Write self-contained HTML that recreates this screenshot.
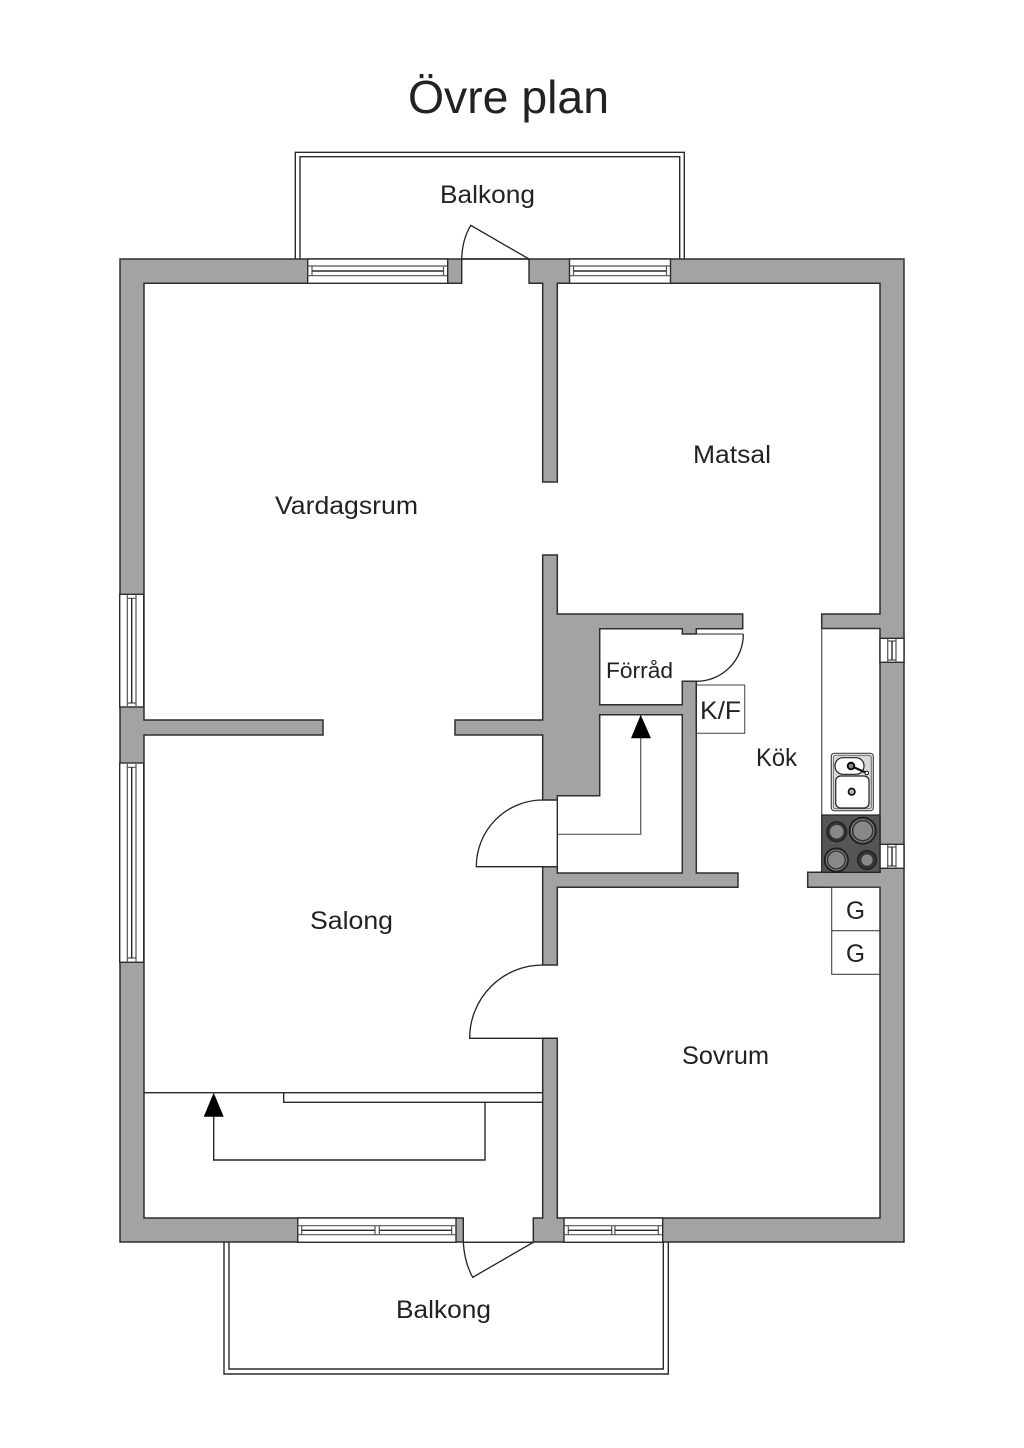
<!DOCTYPE html>
<html><head><meta charset="utf-8"><title>Övre plan</title>
<style>
html,body{margin:0;padding:0;background:#fff}
svg{display:block}
text{font-family:"Liberation Sans",sans-serif;fill:#222}
.w{fill:#a3a3a3;stroke:#2e2e2e;stroke-width:1.5;fill-rule:evenodd}
.o{fill:#fff;stroke:#2e2e2e;stroke-width:1.4}
.l{fill:none;stroke:#2a2a2a;stroke-width:1.4}
.t{fill:none;stroke:#555;stroke-width:1.2}
.d{fill:none;stroke:#222;stroke-width:1.3}
.h{fill:#333;stroke:#1a1a1a;stroke-width:1}
</style></head><body>
<svg width="1024" height="1448" viewBox="0 0 1024 1448" xmlns="http://www.w3.org/2000/svg">
<rect width="1024" height="1448" fill="#fff"/>

<!-- balconies -->
<path class="l" d="M295.3 259V152.3H684.3V259M300 259V156.7H679.7V259"/>
<path class="l" d="M224 1242V1374H668.3V1242M229 1242V1369H663.3V1242"/>

<!-- walls -->
<path class="w" d="M120 259H904V1242H120Z M144 283.3H542.7V482H557.3V283.3H880V614H821.7V628.5H880V872.3H807.7V887.3H880V1218H557.3V1038.3H542.7V1218H144V735H323V720H144Z"/>
<path class="w" d="M542.7 555H557.3V614H742.7V628.7H696.3V634H682.3V628.7H599.7V704.7H682.3V681.3H696.3V873H738V887.3H557.3V965H542.7V866.7H557.3V873H682.3V714.7H599.7V795.7H557.3V800H542.7V735H455V720H542.7Z"/>

<!-- top door -->
<rect x="462.3" y="259.8" width="66.2" height="25" fill="#fff"/>
<path class="l" d="M461.7 259V283.3M529 259V283.3M461.7 259H529"/>
<path class="d" d="M461.7 259C462 246 465 235 470.7 225.3L529 259"/>
<!-- bottom door -->
<rect x="463.9" y="1216.5" width="68.8" height="25.2" fill="#fff"/>
<path class="l" d="M463.3 1218V1242.3M533.3 1218V1242.3M463.3 1242.3H533.3"/>
<path class="d" d="M463.3 1242.3C464 1255 467 1267 472.7 1277.3L533.3 1242.3"/>

<!-- top windows -->
<rect class="o" x="307.7" y="259" width="140" height="24.3"/>
<path class="t" d="M308 266H447M308 275.7H447M312 266V275.7M443.5 266V275.7"/>
<path class="l" d="M312 271H443.5"/>
<rect class="o" x="569.5" y="259" width="101" height="24.3"/>
<path class="t" d="M570 266H670M570 275.7H670M573.5 266V275.7M666.5 266V275.7"/>
<path class="l" d="M573.5 271H666.5"/>

<!-- bottom windows -->
<rect class="o" x="297.7" y="1218" width="158.3" height="24.3"/>
<path class="t" d="M298 1225.7H456M298 1234.7H456M301.7 1225.7V1234.7M451.7 1225.7V1234.7M375 1225.7V1234.7M379.3 1225.7V1234.7"/>
<path class="l" d="M301.7 1230.3H375M379.3 1230.3H451.7"/>
<rect class="o" x="564" y="1218" width="98.7" height="24.3"/>
<path class="t" d="M564 1225.7H662M564 1234.7H662M568.3 1225.7V1234.7M658.3 1225.7V1234.7M611.7 1225.7V1234.7M615 1225.7V1234.7"/>
<path class="l" d="M568.3 1230.3H611.7M615 1230.3H658.3"/>

<!-- left windows -->
<rect class="o" x="119.7" y="594.3" width="24" height="112.7"/>
<path class="t" d="M127.3 595V706M136 595V706M127.3 598.3H136M127.3 703H136"/>
<path class="l" d="M131.7 598.3V703"/>
<rect class="o" x="119.7" y="763" width="24" height="199.3"/>
<path class="t" d="M127.3 764V962M136 764V962M127.3 767.3H136M127.3 958H136"/>
<path class="l" d="M131.7 767.3V958"/>

<!-- right windows -->
<rect class="o" x="880" y="638.3" width="24" height="24"/>
<path class="t" d="M887.7 639V662M896 639V662M887.7 641H896M887.7 660H896"/>
<path class="l" d="M892 641V660"/>
<rect class="o" x="880" y="844.3" width="24" height="24"/>
<path class="t" d="M887.7 845V868M896 845V868M887.7 847H896M887.7 866H896"/>
<path class="l" d="M892 847V866"/>

<!-- interior doors -->
<path class="d" d="M542.7 800A66.5 66.5 0 0 0 476.3 866.7H542.7"/>
<path class="l" d="M557.3 800V866.7"/>
<path class="d" d="M542.7 965A73 73 0 0 0 469.7 1038.3H557.3"/>
<path class="d" d="M743.3 634A47 47 0 0 1 696.3 681.3"/>
<path class="t" d="M696.3 634H743.3"/>

<!-- stair Förråd -->
<path class="t" d="M557.3 834.3H640.7V730"/>
<path d="M640.7 714.7L651 738.3H631Z" fill="#000"/>

<!-- closet / lower stair -->
<path class="l" d="M144 1092.7H542.7M283.7 1092.7V1102.3H542.7M485 1102.3V1160H213.7V1110"/>
<path d="M213.7 1092.7L223.7 1116.7H203.7Z" fill="#000"/>

<!-- K/F box -->
<rect x="696.3" y="685" width="48.4" height="48.3" fill="#fff" stroke="#555" stroke-width="1.1"/>
<path class="l" d="M696.3 681.3V733.3"/>

<!-- counter -->
<path class="t" d="M821.7 628.5V815"/>

<!-- sink -->
<rect x="831.3" y="753.3" width="42" height="57.4" rx="3" fill="#fff" stroke="#444" stroke-width="1.2"/>
<rect x="833.3" y="755.3" width="38" height="53.4" rx="2" fill="#d8d8d8" stroke="#666" stroke-width="1"/>
<rect x="835" y="757.7" width="29" height="16.6" rx="8" fill="#fff" stroke="#222" stroke-width="1.2"/>
<rect x="835.7" y="776" width="33.3" height="32" rx="5" fill="#fff" stroke="#222" stroke-width="1.2"/>
<path d="M851 766L866.7 773" stroke="#111" stroke-width="2.2"/>
<circle cx="866.7" cy="773" r="1.8" fill="#fff" stroke="#111"/>
<circle cx="851" cy="766" r="3.3" fill="#888" stroke="#000" stroke-width="1.8"/>
<circle cx="851.7" cy="791.7" r="3.2" fill="#bbb" stroke="#111" stroke-width="1.7"/>

<!-- hob -->
<rect x="821.7" y="815" width="58.3" height="57.3" fill="#555" stroke="#222" stroke-width="1.2"/>
<circle class="h" cx="836.7" cy="831.7" r="10"/>
<circle cx="836.7" cy="831.7" r="6.8" fill="#888"/>
<circle class="h" cx="862.7" cy="830.7" r="13.5"/>
<circle cx="862.7" cy="830.7" r="11.3" fill="none" stroke="#999" stroke-width=".8"/>
<circle cx="862.7" cy="830.7" r="9.3" fill="#888"/>
<circle class="h" cx="836.3" cy="860" r="12"/>
<circle cx="836.3" cy="860" r="10" fill="none" stroke="#999" stroke-width=".7"/>
<circle cx="836.3" cy="860" r="8.2" fill="#888"/>
<circle class="h" cx="867" cy="860" r="9.5"/>
<circle cx="867" cy="860" r="5.6" fill="#888"/>

<!-- G boxes -->
<path d="M880 887.3H831.7V974.3H880M831.7 930.7H880" fill="none" stroke="#444" stroke-width="1.1"/>

<!-- labels -->
<text x="408" y="113" font-size="46" textLength="201" lengthAdjust="spacingAndGlyphs">Övre plan</text>
<text x="440" y="203" font-size="25" textLength="95" lengthAdjust="spacingAndGlyphs">Balkong</text>
<text x="275" y="514" font-size="25" textLength="143" lengthAdjust="spacingAndGlyphs">Vardagsrum</text>
<text x="693" y="463" font-size="25" textLength="78" lengthAdjust="spacingAndGlyphs">Matsal</text>
<text x="606" y="678" font-size="22" textLength="67" lengthAdjust="spacingAndGlyphs">Förråd</text>
<text x="700" y="719" font-size="25" textLength="41" lengthAdjust="spacingAndGlyphs">K/F</text>
<text x="756" y="766" font-size="25" textLength="41" lengthAdjust="spacingAndGlyphs">Kök</text>
<text x="310" y="929" font-size="25" textLength="83" lengthAdjust="spacingAndGlyphs">Salong</text>
<text x="682" y="1064" font-size="25" textLength="87" lengthAdjust="spacingAndGlyphs">Sovrum</text>
<text x="396" y="1318" font-size="25" textLength="95" lengthAdjust="spacingAndGlyphs">Balkong</text>
<text x="846" y="919" font-size="25" textLength="19" lengthAdjust="spacingAndGlyphs">G</text>
<text x="846" y="962" font-size="25" textLength="19" lengthAdjust="spacingAndGlyphs">G</text>
</svg>
</body></html>
